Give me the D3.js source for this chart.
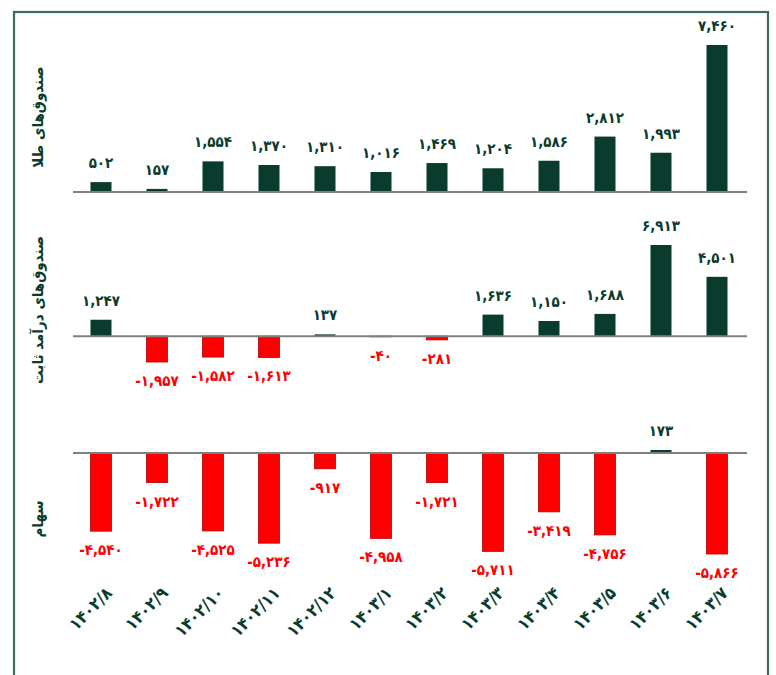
<!DOCTYPE html>
<html><head><meta charset="utf-8">
<script src="https://cdn.jsdelivr.net/npm/d3@7"></script>
<style>html,body{margin:0;padding:0;background:#fff;}svg{display:block;}</style>
</head><body>
<svg id="chart" width="776" height="675"></svg>
<script>
const months = ["۱۴۰۲/۸","۱۴۰۲/۹","۱۴۰۲/۱۰","۱۴۰۲/۱۱","۱۴۰۲/۱۲","۱۴۰۳/۱","۱۴۰۳/۲","۱۴۰۳/۳","۱۴۰۳/۴","۱۴۰۳/۵","۱۴۰۳/۶","۱۴۰۳/۷"];
const goldFunds = [502,157,1554,1370,1310,1016,1469,1204,1586,2812,1993,7460];
const fixedIncomeFunds = [1247,-1957,-1582,-1613,137,-40,-281,1636,1150,1688,6913,4501];
const stocks = [-4540,-1722,-4525,-5236,-917,-4958,-1721,-5711,-3419,-4756,173,-5866];
const panelTitles = ["صندوق‌های طلا","صندوق‌های درآمد ثابت","سهام"];

const GREEN = "#0b3b2c", RED = "#ff0000", FONT = "'DejaVu Sans Condensed', 'DejaVu Sans', sans-serif";
const svg = d3.select("#chart");
const fa = s => s.replace(/\d/g, d => "۰۱۲۳۴۵۶۷۸۹"[+d]);
const locale = d3.formatLocale({decimal: ".", thousands: ",", grouping: [3], currency: ["", ""], minus: "-"});
const fmt = v => fa(locale.format(",")(v));

// frame
svg.append("rect").attr("x",14).attr("y",12).attr("width",754).attr("height",700)
  .attr("fill","none").attr("stroke","#3f6b5c").attr("stroke-width",2.2);

const x = d3.scaleBand().domain(months).range([73,745]).paddingInner(0.625).paddingOuter(0.3125);

const panels = [
  {data: goldFunds, y: d3.scaleLinear().domain([0,7460]).range([192,45]), titleY:117},
  {data: fixedIncomeFunds, y: d3.scaleLinear().domain([-1957,6913]).range([362,245]), titleY:310},
  {data: stocks, y: d3.scaleLinear().domain([-5866,173]).range([554,450]), titleY:519}
];

panels.forEach((p, i) => {
  const g = svg.append("g");
  const y = p.y;
  const rows = months.map((m, j) => ({m, v: p.data[j]}));
  g.selectAll("rect.bar").data(rows).join("rect")
    .attr("class","bar")
    .attr("x", d => x(d.m))
    .attr("width", x.bandwidth())
    .attr("y", d => Math.min(y(d.v), y(0)))
    .attr("height", d => Math.max(0.6, Math.abs(y(d.v) - y(0))))
    .attr("fill", d => d.v < 0 ? RED : GREEN)
    .attr("stroke", d => d.v < 0 ? "#b00000" : "none")
    .attr("stroke-width", 0.8);
  g.append("line").attr("x1",73).attr("x2",747).attr("y1",y(0)).attr("y2",y(0))
    .attr("stroke","#808080").attr("stroke-width",2);
  g.selectAll("text.val").data(rows).join("text")
    .attr("class","val")
    .attr("x", d => x(d.m) + x.bandwidth()/2)
    .attr("y", d => d.v < 0 ? y(d.v) + 24 : y(d.v) - 14)
    .attr("text-anchor","middle")
    .attr("direction","ltr")
    .attr("font-family", FONT).attr("font-weight","bold").attr("font-size",15)
    .attr("fill", d => d.v < 0 ? RED : GREEN)
    .text(d => fmt(d.v));
  svg.append("text")
    .attr("transform", `translate(43,${p.titleY}) rotate(-90)`)
    .attr("text-anchor","middle")
    .attr("font-family", FONT).attr("font-weight","bold").attr("font-size",15)
    .attr("fill", GREEN)
    .text(panelTitles[i]);
});

// x labels
const xAxis = d3.axisBottom(x).tickSize(0).tickPadding(0);
const ax = svg.append("g").attr("transform","translate(0,590)").call(xAxis);
ax.select(".domain").remove();
ax.selectAll("text")
  .attr("font-family", FONT).attr("font-weight","bold").attr("font-size",17)
  .attr("fill", GREEN).attr("direction","ltr")
  .attr("text-anchor","end").attr("dy","0.35em")
  .attr("transform","translate(8,0) rotate(-45)");
</script>
</body></html>
